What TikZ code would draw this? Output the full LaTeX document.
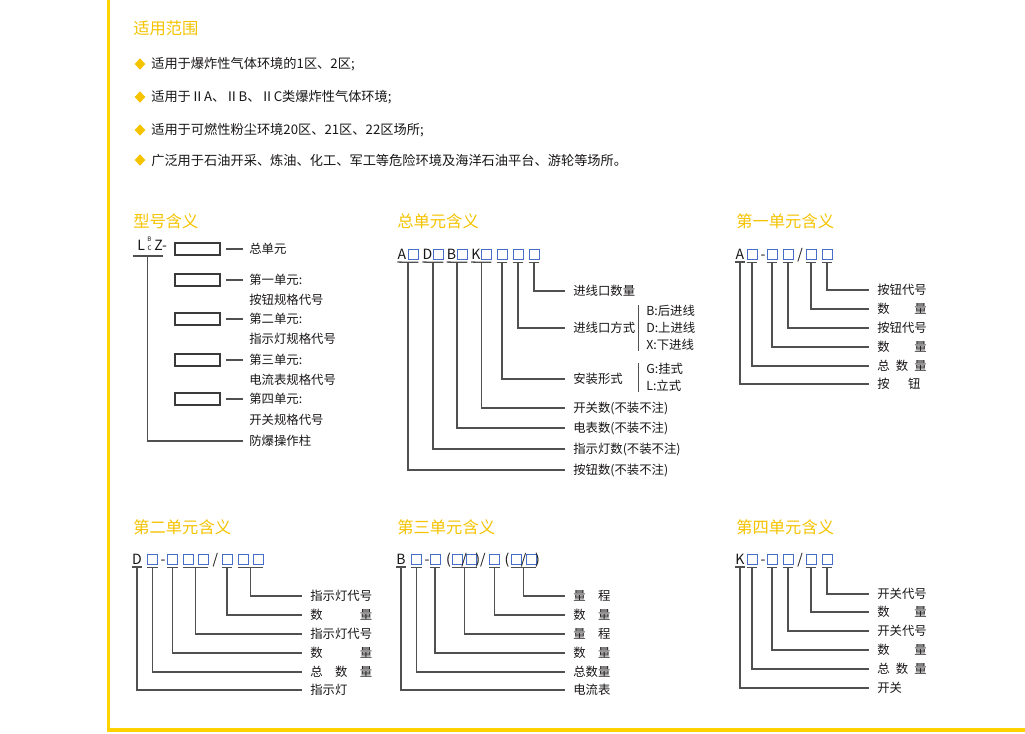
\documentclass[tikz,border=0pt]{standalone}
\usepackage{fontspec}
\setmainfont{Noto Sans CJK SC}
\usetikzlibrary{shapes.geometric,calc}
\definecolor{ScopeGold}{RGB}{245,195,0}
\definecolor{FrameGold}{RGB}{255,210,0}
\definecolor{InkGray}{RGB}{25,22,24}
\definecolor{WireGray}{RGB}{80,80,80}
\definecolor{SlotBlue}{RGB}{70,110,200}

\newcommand\headfont{\fontsize{11.6}{13}\selectfont}
\newcommand\bodyfont{\fontsize{9.4}{11}\selectfont}
\newcommand\lblfont{\fontsize{8.8}{10}\selectfont}
\newcommand\codefont{\fontsize{10}{11}\selectfont}
\newcommand\tinyfont{\fontsize{4.4}{5}\selectfont}
\newcommand\spreadlbl[2]{\makebox[#1][s]{#2}}
% underline below code item(s), then down and across to the label
\newcommand\codetick[3]{%
  \draw[wire] ([yshift=-2pt]#1.south west) -- coordinate (tk) ([yshift=-2pt]#2.south east);
  \draw[wire] (tk) |- (#3.west);}

\tikzset{
  head/.style={anchor=west,inner sep=0,font=\headfont,text=ScopeGold},
  body/.style={anchor=west,inner sep=0,font=\bodyfont,text=InkGray},
  bullet/.style={diamond,fill=ScopeGold,minimum width=0.27cm,minimum height=0.29cm,inner sep=0},
  code/.style={anchor=base,inner sep=0,text depth=0pt,font=\codefont,text=InkGray},
  mini/.style={inner sep=0,text height=3.2pt,text depth=0pt,font=\tinyfont,text=InkGray},
  slot/.style={draw=SlotBlue,line width=0.6pt,minimum size=0.25cm,inner sep=0},
  modelbox/.style={draw=InkGray!85,line width=0.8pt,minimum width=1.125cm,minimum height=0.3cm,inner sep=0},
  wire/.style={draw=WireGray,line width=0.9pt},
  lbl/.style={anchor=west,inner xsep=0.2cm,inner ysep=0,font=\lblfont,text=InkGray},
  mlbl/.style={lbl,inner xsep=0.15cm},
  note/.style={anchor=west,inner sep=0,font=\lblfont,text=InkGray}
}

\begin{document}
\begin{tikzpicture}[x=0.025cm,y=-0.025cm]
\path[use as bounding box,fill=white] (0,0) rectangle (1025,733);
\fill[FrameGold] (106.5,0) rectangle (110,732);
\fill[FrameGold] (106.5,728) rectangle (1025,732);

% scope of use
\node[head] (hScope) at (133,28) {适用范围};
\foreach \n/\y/\txt in {1/64/{适用于爆炸性气体环境的1区、2区;},
    2/97/{适用于ⅡA、ⅡB、ⅡC类爆炸性气体环境;},
    3/130/{适用于可燃性粉尘环境20区、21区、22区场所;},
    4/160/{广泛用于石油开采、炼油、化工、军工等危险环境及海洋石油平台、游轮等场所。}}
  {\node[bullet] (d\n) at (140,\y) {};
   \node[body] (s\n) at (151,\y) {\txt};}

% section heads
\node[head] (hModel) at (133,221) {型号含义};
\node[head] (hMain) at (397,221) {总单元含义};
\node[head] (hUnitA) at (736,221) {第一单元含义};
\node[head] (hUnitD) at (133,527) {第二单元含义};
\node[head] (hUnitB) at (397,527) {第三单元含义};
\node[head] (hUnitK) at (736,527) {第四单元含义};

% model meaning
\node[code,anchor=base west] (mL) at (137,250) {L};
\node[mini] (mB) at (149.5,239.3) {B};
\node[mini] (mC) at (149.5,248.6) {C};
\node[code,anchor=base west] (mZ) at (154,250) {Z-};
\draw[wire] ([shift={(-3pt,-4pt)}]mL.south west) -- coordinate (uL) ([shift={(1.5pt,-4pt)}]mZ.south);
\foreach \n/\y in {0/249,1/280,2/319,3/360,4/399}
  \node[modelbox] (k\n) at (197.5,\y) {};
\node[mlbl] (t0) at (243,249) {总单元};
\node[mlbl] (t1) at (243,280) {第一单元:};
\node[note] (t1b) at (249,300) {按钮规格代号};
\node[mlbl] (t2) at (243,319) {第二单元:};
\node[note] (t2b) at (249,339) {指示灯规格代号};
\node[mlbl] (t3) at (243,360) {第三单元:};
\node[note] (t3b) at (249,380) {电流表规格代号};
\node[mlbl] (t4) at (243,399) {第四单元:};
\node[note] (t4b) at (249,420) {开关规格代号};
\node[mlbl] (t5) at (243,441) {防爆操作柱};
\foreach \n in {0,...,4}
  \draw[wire] ([xshift=4pt]k\n.east) -- (t\n.west);
\draw[wire] (uL) |- (t5.west);

% main unit
\node[code] (gA) at (402,259) {A};
\node[slot] (gbA) at (413,254) {};
\node[code] (gD) at (427.5,259) {D};
\node[slot] (gbD) at (438,254) {};
\node[code] (gB) at (451.5,259) {B};
\node[slot] (gbB) at (462,254) {};
\node[code] (gK) at (476,259) {K};
\node[slot] (gbK) at (486,254) {};
\foreach \n/\x in {5/502,6/518,7/534}
  \node[slot] (gb\n) at (\x,254) {};
\node[lbl] (j7) at (565,291) {进线口数量};
\node[lbl] (j6) at (565,328) {进线口方式};
\node[lbl] (j5) at (565,379) {安装形式};
\node[lbl] (jK) at (565,408) {开关数(不装不注)};
\node[lbl] (jB) at (565,428) {电表数(不装不注)};
\node[lbl] (jD) at (565,449) {指示灯数(不装不注)};
\node[lbl] (jA) at (565,470) {按钮数(不装不注)};
\node[note] (oB) at (646,311) {B:后进线};
\node[note] (oD) at (646,328) {D:上进线};
\node[note] (oX) at (646,345) {X:下进线};
\node[note] (oG) at (646,369) {G:挂式};
\node[note] (oL) at (646,386) {L:立式};
\draw[wire] ([xshift=-5.5pt]oB.north west) -- ([xshift=-5.5pt]oX.south west);
\draw[wire] ([xshift=-5.5pt]oG.north west) -- ([xshift=-5.5pt]oL.south west);
\codetick{gA}{gbA}{jA}
\codetick{gD}{gbD}{jD}
\codetick{gB}{gbB}{jB}
\codetick{gK}{gbK}{jK}
\codetick{gb5}{gb5}{j5}
\codetick{gb6}{gb6}{j6}
\codetick{gb7}{gb7}{j7}

% first unit: buttons
\node[code] (aA) at (740,259) {A};
\node[code] (aDash) at (763,259) {-};
\node[code] (aSlash) at (800,259) {/};
\foreach \n/\x in {1/752,2/772,3/788,4/811,5/827}
  \node[slot] (ab\n) at (\x,254) {};
\node[lbl] (p5) at (869,290) {按钮代号};
\node[lbl] (p4) at (869,309) {\spreadlbl{4em}{数\hfill 量}};
\node[lbl] (p3) at (869,328) {按钮代号};
\node[lbl] (p2) at (869,347) {\spreadlbl{4em}{数\hfill 量}};
\node[lbl] (p1) at (869,366) {\spreadlbl{4em}{总\hfill 数\hfill 量}};
\node[lbl] (p0) at (869,384) {\spreadlbl{3.5em}{按\hfill 钮}};
\codetick{aA}{aA}{p0}
\foreach \n in {1,...,5}
  {\codetick{ab\n}{ab\n}{p\n}}

% second unit: indicator lamps
\node[code] (dD) at (137,564) {D};
\node[code] (dDash) at (163,564) {-};
\node[code] (dSlash) at (215.5,564) {/};
\foreach \n/\x in {1/152.5,2/172.5,3/188,4/203,5/227,6/243,7/258}
  \node[slot] (db\n) at (\x,559) {};
\node[lbl] (r6) at (302,596) {指示灯代号};
\node[lbl] (r5) at (302,615) {\spreadlbl{5em}{数\hfill 量}};
\node[lbl] (r4) at (302,634) {指示灯代号};
\node[lbl] (r3) at (302,653) {\spreadlbl{5em}{数\hfill 量}};
\node[lbl] (r2) at (302,672) {\spreadlbl{5em}{总\hfill 数\hfill 量}};
\node[lbl] (r1) at (302,690) {指示灯};
\codetick{dD}{dD}{r1}
\codetick{db1}{db1}{r2}
\codetick{db2}{db2}{r3}
\codetick{db3}{db4}{r4}
\codetick{db5}{db5}{r5}
\codetick{db6}{db7}{r6}

% third unit: ammeters
\node[code] (eB) at (401,564) {B};
\foreach \n/\x in {1/416.5,2/435,3/457,4/471.5,5/494.5,6/516,7/531}
  \node[slot] (eb\n) at (\x,559) {};
\node[code] (ep1) at (427,564) {-};
\node[code] (ep2) at (448.5,564) {(};
\node[code] (ep3) at (464.2,564) {/};
\node[code] (ep4) at (480.5,564) {)/};
\node[code] (ep5) at (507,564) {(};
\node[code] (ep6) at (523.5,564) {/};
\node[code] (ep7) at (537.5,564) {)};
\node[lbl] (m6) at (565,596) {\spreadlbl{3em}{量\hfill 程}};
\node[lbl] (m5) at (565,615) {\spreadlbl{3em}{数\hfill 量}};
\node[lbl] (m4) at (565,634) {\spreadlbl{3em}{量\hfill 程}};
\node[lbl] (m3) at (565,653) {\spreadlbl{3em}{数\hfill 量}};
\node[lbl] (m2) at (565,672) {总数量};
\node[lbl] (m1) at (565,690) {电流表};
\codetick{eB}{eB}{m1}
\codetick{eb1}{eb1}{m2}
\codetick{eb2}{eb2}{m3}
\codetick{eb3}{eb4}{m4}
\codetick{eb5}{eb5}{m5}
\codetick{eb6}{eb7}{m6}

% fourth unit: switches
\node[code] (kK) at (740,564) {K};
\node[code] (kDash) at (763,564) {-};
\node[code] (kSlash) at (800,564) {/};
\foreach \n/\x in {1/752,2/772,3/788,4/811,5/827}
  \node[slot] (kb\n) at (\x,559) {};
\node[lbl] (q5) at (869,594) {开关代号};
\node[lbl] (q4) at (869,612) {\spreadlbl{4em}{数\hfill 量}};
\node[lbl] (q3) at (869,631) {开关代号};
\node[lbl] (q2) at (869,650) {\spreadlbl{4em}{数\hfill 量}};
\node[lbl] (q1) at (869,669) {\spreadlbl{4em}{总\hfill 数\hfill 量}};
\node[lbl] (q0) at (869,688) {开关};
\codetick{kK}{kK}{q0}
\foreach \n in {1,...,5}
  {\codetick{kb\n}{kb\n}{q\n}}
\end{tikzpicture}
\end{document}
